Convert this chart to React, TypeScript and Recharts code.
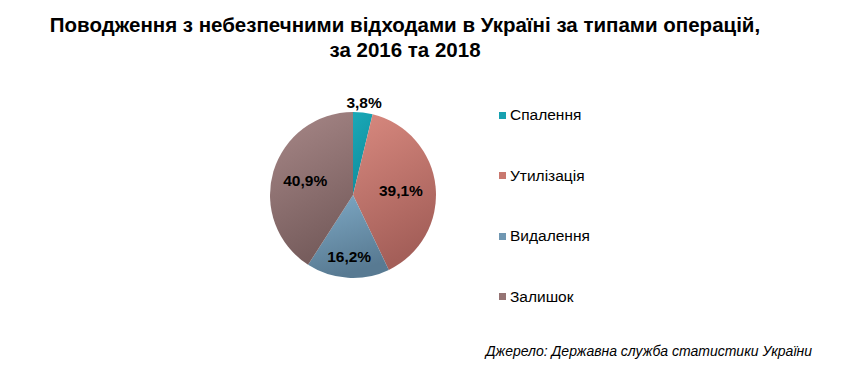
import React from 'react';
import { PieChart, Pie, Cell } from 'recharts';

const CATEGORIES = ['Спалення', 'Утилізація', 'Видалення', 'Залишок'];
const SHARES = [3.8, 39.1, 16.2, 40.9];
const LABEL_RADIUS = [1.12, 0.58, 0.74, 0.6];

const COLORS = ['#17a1b0', '#c9786f', '#7097b2', '#957474'];
const GRADIENTS = [
  ['#1aa9b8', '#0f8d9c'],
  ['#d8897f', '#a45f59'],
  ['#7faac6', '#587a92'],
  ['#a88888', '#775d5d'],
];

const data = CATEGORIES.map((name, i) => ({ name, value: SHARES[i] }));

const FONT = '"Liberation Sans", Arial, sans-serif';
const RAD = Math.PI / 180;

const renderLabel = (props: any) => {
  const { cx, cy, midAngle, outerRadius, index, value } = props;
  const r = outerRadius * LABEL_RADIUS[index];
  const x = cx + r * Math.cos(-midAngle * RAD);
  const y = cy + r * Math.sin(-midAngle * RAD);
  return (
    <text
      x={x}
      y={y}
      textAnchor="middle"
      dominantBaseline="central"
      fill="#000"
      fontFamily={FONT}
      fontWeight="bold"
      fontSize={15.5}
    >
      {String(value).replace('.', ',')}%
    </text>
  );
};

export default function App() {
  return (
    <div
      style={{
        position: 'absolute',
        left: 0,
        top: 0,
        width: 866,
        height: 373,
        background: '#fff',
        fontFamily: FONT,
      }}
    >
      <div
        style={{
          position: 'absolute',
          left: 0,
          width: 810,
          top: 12,
          textAlign: 'center',
          fontWeight: 'bold',
          fontSize: 20.5,
          lineHeight: '25px',
          color: '#000',
        }}
      >
        Поводження з небезпечними відходами в Україні за типами операцій,
        <br />
        за 2016 та 2018
      </div>
      <PieChart width={866} height={373} style={{ position: 'absolute', left: 0, top: 0 }}>
        <defs>
          {GRADIENTS.map((g, i) => (
            <linearGradient key={i} id={`slice-${i}`} x1="0" y1="0" x2="0.3" y2="1">
              <stop offset="0%" stopColor={g[0]} />
              <stop offset="100%" stopColor={g[1]} />
            </linearGradient>
          ))}
        </defs>
        <Pie
          data={data}
          dataKey="value"
          nameKey="name"
          cx={348}
          cy={190}
          outerRadius={83}
          startAngle={90}
          endAngle={-270}
          stroke="none"
          label={renderLabel}
          labelLine={false}
          isAnimationActive={false}
        >
          {data.map((d, i) => (
            <Cell key={d.name} fill={`url(#slice-${i})`} />
          ))}
        </Pie>
      </PieChart>
      <div
        style={{
          position: 'absolute',
          left: 499,
          top: 85,
          fontSize: 15.5,
          color: '#000',
        }}
      >
        {CATEGORIES.map((c, i) => (
          <div key={c} style={{ display: 'flex', alignItems: 'center', height: 60.5 }}>
            <span
              style={{
                display: 'inline-block',
                width: 7,
                height: 7,
                background: COLORS[i],
                marginRight: 4,
              }}
            />
            {c}
          </div>
        ))}
      </div>
      <div
        style={{
          position: 'absolute',
          right: 54,
          top: 343,
          fontStyle: 'italic',
          fontSize: 14,
          color: '#000',
        }}
      >
        Джерело: Державна служба статистики України
      </div>
    </div>
  );
}
